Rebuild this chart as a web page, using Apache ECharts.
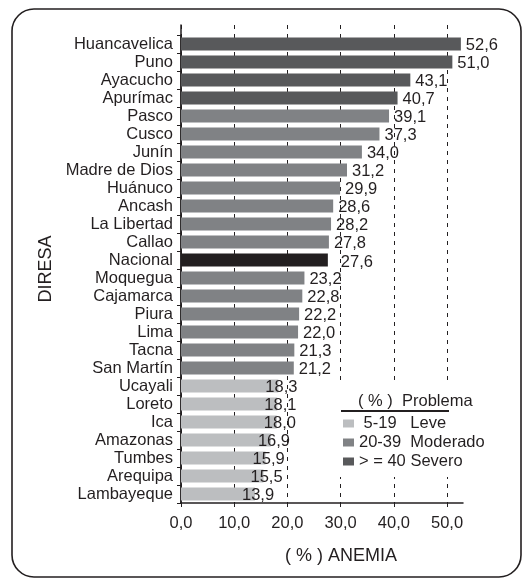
<!DOCTYPE html>
<html>
<head>
<meta charset="utf-8">
<script src="https://cdn.jsdelivr.net/npm/echarts@6/dist/echarts.min.js"></script>
<style>
  html, body { margin: 0; padding: 0; background: #fff; }
  #chart { width: 524px; height: 579px; }
</style>
</head>
<body>
<div id="chart"></div>
<script>
// Prevalencia de anemia (%) por DIRESA
const categories = [
  'Huancavelica', 'Puno', 'Ayacucho', 'Apurímac', 'Pasco', 'Cusco', 'Junín',
  'Madre de Dios', 'Huánuco', 'Ancash', 'La Libertad', 'Callao', 'Nacional',
  'Moquegua', 'Cajamarca', 'Piura', 'Lima', 'Tacna', 'San Martín', 'Ucayali',
  'Loreto', 'Ica', 'Amazonas', 'Tumbes', 'Arequipa', 'Lambayeque'
];
const anemia = [
  52.6, 51.0, 43.1, 40.7, 39.1, 37.3, 34.0,
  31.2, 29.9, 28.6, 28.2, 27.8, 27.6,
  23.2, 22.8, 22.2, 22.0, 21.3, 21.2, 18.3,
  18.1, 18.0, 16.9, 15.9, 15.5, 13.9
];
const xTicks = [0, 10, 20, 30, 40, 50];
const nationalName = 'Nacional';

// Niveles del problema de salud pública
const levelNames = [' 5-19   Leve', '20-39  Moderado', '> = 40 Severo'];
const levelLimits = [[0, 20], [20, 40], [40, Infinity]];
const levelColors = ['#bcbec0', '#808285', '#58595b'];
const nationalColor = '#231f20';
const ink = '#231f20';
const font = '"Liberation Sans", Arial, sans-serif';
const fs = 16.5;

const fmt = v => Number(v).toFixed(1).replace('.', ',');

const labelOffsets = [[-18, 1], [0, 1], [0, 1]];

const series = levelNames.map((name, k) => ({
  name,
  type: 'bar',
  xAxisIndex: 1,
  yAxisIndex: 1,
  stack: 'anemia',
  barWidth: 13,
  itemStyle: { color: levelColors[k] },
  label: {
    show: true,
    position: 'right',
    distance: 5,
    offset: labelOffsets[k],
    formatter: p => fmt(p.value),
    color: ink,
    fontSize: fs,
    fontFamily: font
  },
  data: categories.map((c, i) =>
    c !== nationalName && anemia[i] >= levelLimits[k][0] && anemia[i] < levelLimits[k][1]
      ? anemia[i] : '-')
}));

series.push({
  name: nationalName,
  type: 'bar',
  xAxisIndex: 1,
  yAxisIndex: 1,
  stack: 'anemia',
  barWidth: 13,
  itemStyle: { color: nationalColor },
  label: {
    show: true,
    position: 'right',
    distance: 5,
    offset: [8, 2],
    formatter: p => fmt(p.value),
    color: ink,
    fontSize: fs,
    fontFamily: font
  },
  data: categories.map((c, i) => c === nationalName ? anemia[i] : '-')
});

const chart = echarts.init(document.getElementById('chart'), null, { renderer: 'canvas' });

chart.setOption({
  animation: false,
  backgroundColor: '#fff',
  textStyle: { fontFamily: font, color: ink },
  grid: [
    { left: 181, right: 61, top: 25, bottom: 76 },
    { left: 181, right: 61, top: 35, bottom: 76 }
  ],
  xAxis: [
    {
      gridIndex: 0,
      type: 'value',
      min: 0,
      max: 53,
      axisLine: { show: true, lineStyle: { color: ink, width: 1.5 } },
      axisTick: { show: true, length: 4, lineStyle: { color: ink }, customValues: xTicks },
      axisLabel: {
        customValues: xTicks,
        formatter: v => fmt(v),
        color: ink,
        fontSize: fs,
        fontFamily: font,
        margin: 12
      },
      splitLine: { show: true, lineStyle: { color: ink, width: 1, type: [4, 5] } },
      name: '( % ) ANEMIA',
      nameLocation: 'middle',
      nameGap: 44,
      nameTextStyle: { color: ink, fontSize: 18, fontFamily: font, padding: [0, 0, 0, 38] }
    },
    {
      gridIndex: 1,
      type: 'value',
      min: 0,
      max: 53,
      show: false
    }
  ],
  yAxis: [
    {
      gridIndex: 0,
      type: 'value',
      min: 0,
      max: 1,
      axisLine: { show: true, onZero: false, lineStyle: { color: ink, width: 1.5 } },
      axisTick: { show: false },
      axisLabel: { show: false },
      splitLine: { show: false }
    },
    {
      gridIndex: 1,
      type: 'category',
      inverse: true,
      data: categories,
      axisLine: { show: true, onZero: false, lineStyle: { color: ink, width: 1.5 } },
      axisTick: { show: true, length: 4, interval: 0, lineStyle: { color: ink } },
      axisLabel: { interval: 0, color: ink, fontSize: fs, fontFamily: font, margin: 8 },
      name: 'DIRESA',
      nameLocation: 'middle',
      nameGap: 120,
      nameTextStyle: { color: ink, fontSize: 18, fontFamily: font }
    }
  ],
  legend: {
    data: levelNames,
    orient: 'vertical',
    left: 343,
    top: 415,
    padding: 0,
    itemWidth: 11,
    itemHeight: 8,
    itemGap: 2,
    icon: 'rect',
    selectedMode: false,
    textStyle: { color: ink, fontSize: fs, fontFamily: font, lineHeight: 16 }
  },
  graphic: [
    {
      type: 'rect',
      z: 3,
      shape: { x: 12, y: 9, width: 509, height: 568, r: 22 },
      style: { fill: 'none', stroke: ink, lineWidth: 1.6 }
    },
    {
      type: 'rect',
      z: 3,
      shape: { x: 332, y: 384, width: 170, height: 93 },
      style: { fill: '#fff' }
    },
    {
      type: 'text',
      z: 5,
      x: 358,
      y: 401,
      style: {
        text: '( % )  Problema',
        fill: ink,
        font: fs + 'px ' + font,
        verticalAlign: 'middle'
      }
    },
    {
      type: 'line',
      z: 5,
      shape: { x1: 341, y1: 411, x2: 449, y2: 411 },
      style: { stroke: ink, lineWidth: 2 }
    }
  ],
  series
});
</script>
</body>
</html>
